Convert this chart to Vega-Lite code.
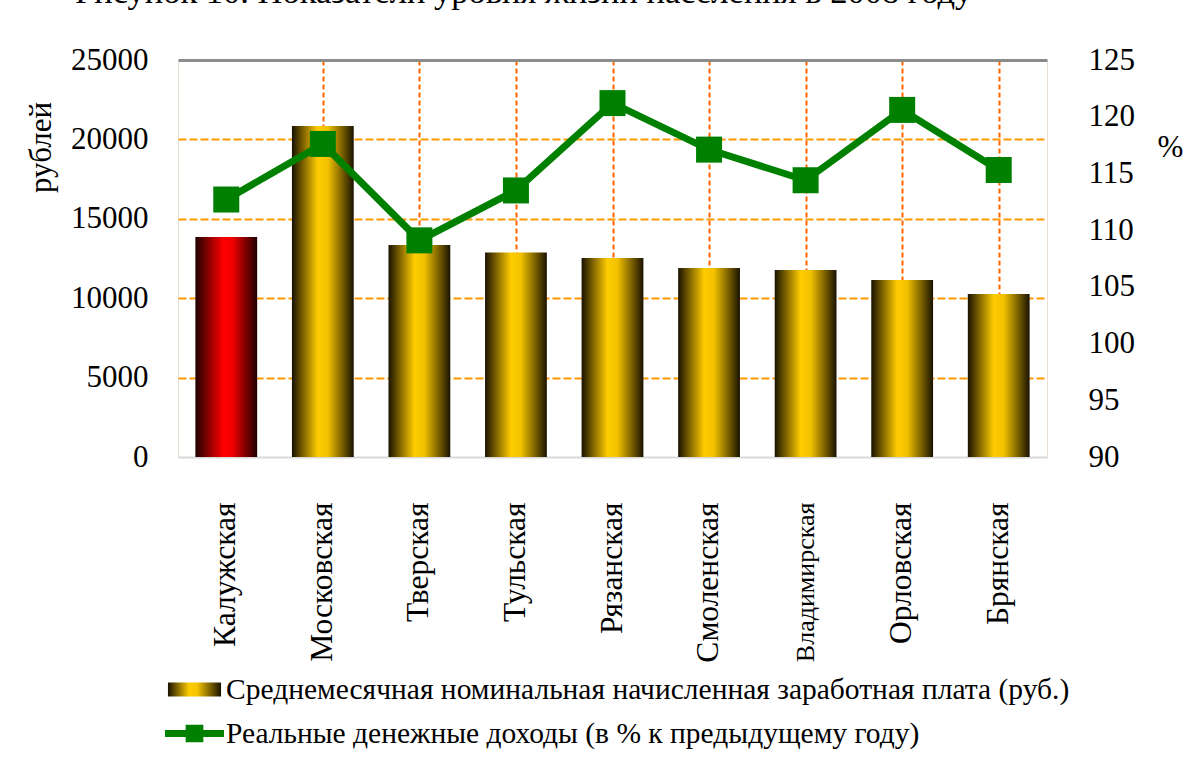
{
  "$schema": "https://vega.github.io/schema/vega-lite/v6.json",
  "width": 869,
  "height": 397,
  "autosize": {"type": "none"},
  "padding": {"left": 178, "top": 60, "right": 142, "bottom": 310},
  "background": "white",
  "title": {
    "text": "Рисунок 10. Показатели уровня жизни населения в 2008 году",
    "frame": "group",
    "anchor": "start",
    "dx": -103,
    "offset": 7,
    "baseline": "alphabetic",
    "font": "Liberation Serif",
    "fontSize": 34.5,
    "fontWeight": "normal",
    "color": "black"
  },
  "data": {
    "values": [
      {"region": "Калужская", "salary": 13850, "income": 112.7},
      {"region": "Московская", "salary": 20850, "income": 117.6},
      {"region": "Тверская", "salary": 13350, "income": 109.1},
      {"region": "Тульская", "salary": 12870, "income": 113.5},
      {"region": "Рязанская", "salary": 12530, "income": 121.2},
      {"region": "Смоленская", "salary": 11900, "income": 117.1},
      {"region": "Владимирская", "salary": 11780, "income": 114.4},
      {"region": "Орловская", "salary": 11150, "income": 120.6},
      {"region": "Брянская", "salary": 10260, "income": 115.3}
    ]
  },
  "config": {
    "view": {"stroke": "#e8ddd2", "strokeWidth": 1},
    "font": "Liberation Serif",
    "axis": {"labelFont": "Liberation Serif", "titleFont": "Liberation Serif", "labelColor": "black", "titleColor": "black", "titleFontWeight": "normal"},
    "legend": {"labelFont": "Liberation Serif", "labelColor": "black"}
  },
  "layer": [
    {
      "mark": {"type": "bar", "width": {"band": 0.64}},
      "encoding": {
        "x": {
          "field": "region", "type": "nominal", "sort": null,
          "scale": {"paddingInner": 0, "paddingOuter": 0},
          "axis": {
            "orient": "bottom", "title": null, "labelAngle": -90,
            "labelFontSize": {"condition": {"test": "datum.value === 'Владимирская'", "value": 26}, "value": 31.5},
            "labelPadding": 45, "ticks": false, "grid": false,
            "domainColor": "#d9d9d9", "domainWidth": 1, "labelLimit": 400
          }
        },
        "y": {
          "field": "salary", "type": "quantitative",
          "scale": {"domain": [0, 25000], "nice": false},
          "axis": {
            "values": [0, 5000, 10000, 15000, 20000, 25000], "format": "d",
            "title": "рублей", "titleFontSize": 31, "titleAngle": -90,
            "titleX": -137, "titleY": 87, "titleAlign": "center", "titleBaseline": "middle",
            "labelFontSize": 31, "labelPadding": 30, "ticks": false, "domain": false,
            "grid": true,
            "gridColor": {"condition": [{"test": "datum.value === 25000", "value": "#8c8c8c"}, {"test": "datum.value === 0", "value": "#d9d9d9"}], "value": "#FF9900"},
            "gridDash": {"condition": {"test": "datum.value === 25000 || datum.value === 0", "value": []}, "value": [8, 3]},
            "gridWidth": {"condition": {"test": "datum.value === 25000", "value": 3}, "value": 2}
          }
        },
        "fill": {
          "condition": {"test": "datum.region === 'Калужская'", "value": {"gradient": "linear", "x1": 0, "y1": 0, "x2": 1, "y2": 0, "stops": [
            {"offset": 0, "color": "#1e0000"}, {"offset": 0.45, "color": "#ff0000"}, {"offset": 0.6, "color": "#f00000"}, {"offset": 1, "color": "#1e0000"}]}},
          "value": {"gradient": "linear", "x1": 0, "y1": 0, "x2": 1, "y2": 0, "stops": [
            {"offset": 0, "color": "#1a1200"}, {"offset": 0.42, "color": "#ffcc00"}, {"offset": 0.58, "color": "#f2c200"}, {"offset": 1, "color": "#1a1200"}]}
        }
      }
    },
    {
      "mark": {"type": "line", "strokeWidth": 7, "point": {"shape": "square", "size": 676, "filled": true, "fill": "#008000", "strokeWidth": 0, "opacity": 1}},
      "encoding": {
        "x": {
          "field": "region", "type": "nominal", "sort": null,
          "scale": {"paddingInner": 0, "paddingOuter": 0},
          "axis": {
            "orient": "top", "title": null, "labels": false, "ticks": false, "domain": false,
            "grid": true, "bandPosition": 0,
            "gridColor": {"condition": {"test": "datum.value === 'Калужская'", "value": "transparent"}, "value": "#FF6600"},
            "gridDash": [5, 3], "gridWidth": 2
          }
        },
        "y": {
          "field": "income", "type": "quantitative",
          "scale": {"domain": [90, 125], "nice": false},
          "axis": {
            "orient": "right", "values": [90, 95, 100, 105, 110, 115, 120, 125], "format": "d",
            "title": "%", "titleFontSize": 31, "titleAngle": 0,
            "titleX": 123, "titleY": 87, "titleAlign": "center", "titleBaseline": "middle",
            "labelFontSize": 31, "labelPadding": 41, "ticks": false, "domain": false, "grid": false
          }
        },
        "stroke": {
          "datum": "Реальные денежные доходы (в % к предыдущему году)",
          "type": "nominal",
          "scale": {
            "domain": ["Среднемесячная номинальная начисленная заработная плата (руб.)", "Реальные денежные доходы (в % к предыдущему году)"],
            "range": ["#FFCC00", "#008000"]
          },
          "legend": {
            "orient": "none", "legendX": -13, "legendY": 600, "title": null,
            "direction": "vertical",
            "symbolType": "square", "symbolSize": 3481, "rowPadding": -10,
            "labelFontSize": 29.5, "labelLimit": 1200, "labelOffset": 2, "padding": 0,
            "encode": {"symbols": {"update": {
              "shape": [
                {"test": "datum.value === 'Среднемесячная номинальная начисленная заработная плата (руб.)'", "value": "M-0.9,-0.237H0.9V0.237H-0.9Z"},
                {"value": "M-1,-0.12H-0.3V-0.3H0.3V-0.12H1V0.12H0.3V0.3H-0.3V0.12H-1Z"}
              ],
              "fill": [
                {"test": "datum.value === 'Среднемесячная номинальная начисленная заработная плата (руб.)'", "value": {"gradient": "linear", "x1": 0, "y1": 0, "x2": 1, "y2": 0, "stops": [
                  {"offset": 0, "color": "#1a1200"}, {"offset": 0.4, "color": "#ffcc00"}, {"offset": 0.55, "color": "#f5c400"}, {"offset": 1, "color": "#1a1200"}]}},
                {"value": "#008000"}
              ],
              "size": {"value": 3481},
              "stroke": {"value": "transparent"},
              "strokeWidth": {"value": 0},
              "opacity": {"value": 1}
            }}}
          }
        }
      }
    }
  ],
  "resolve": {"scale": {"x": "independent", "y": "independent", "stroke": "independent"}}
}
